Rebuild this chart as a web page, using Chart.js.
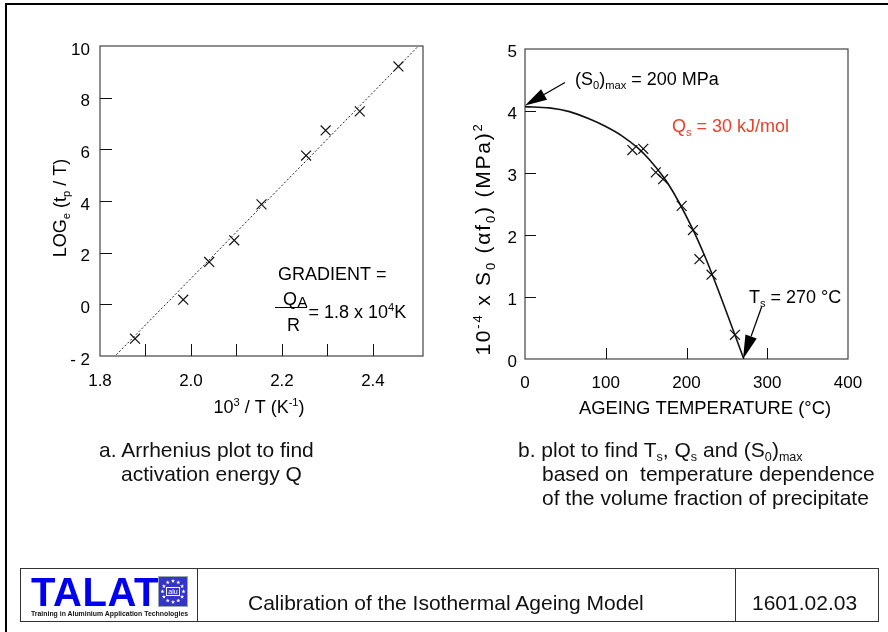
<!DOCTYPE html>
<html lang="en">
<head>
<meta charset="UTF-8">
<title>Calibration of the Isothermal Ageing Model</title>
<script src="https://cdn.jsdelivr.net/npm/chart.js"></script>
<style>
  body { margin: 0; background: #fff; font-family: "Liberation Sans", Arial, sans-serif; }
  #page { position: relative; width: 888px; height: 632px; overflow: hidden; background: #fff; }
  #frame { position: absolute; left: 5px; top: 3px; width: 1000px; height: 1000px; border-left: 2px solid #000; border-top: 2px solid #000; }
  canvas.plot { position: absolute; left: 0; top: 0; }
  .cap { position: absolute; font-size: 21px; line-height: 28px; color: #111; white-space: nowrap; }
  .cap sub { font-size: 60%; vertical-align: -0.3em; line-height: 0; }
  #banner { position: absolute; left: 20px; top: 568px; width: 859px; height: 54px; border: 1px solid #333; box-sizing: border-box; }
  .div { position: absolute; top: 0; bottom: 0; width: 1px; background: #333; }
  .btxt { position: absolute; font-size: 21px; line-height: 30px; color: #111; white-space: nowrap; }
  #talat { position: absolute; left: 10px; top: 3px; font-size: 40px; line-height: 40px; font-weight: bold; color: #0000f0; letter-spacing: 0.6px; }
  #talatsub { position: absolute; left: 10px; top: 41px; font-size: 6.9px; line-height: 8px; font-weight: bold; color: #111; white-space: nowrap; }
  #logo { position: absolute; left: 137px; top: 7px; }
</style>
</head>
<body>
<div id="page">
  <div id="frame"></div>
  <canvas id="arrhenius" class="plot" width="888" height="632"></canvas>
  <canvas id="solvus" class="plot" width="888" height="632"></canvas>

  <div class="cap" style="left:99px; top:436px;">a. Arrhenius plot to find</div>
  <div class="cap" style="left:121px; top:460px;">activation energy Q</div>
  <div class="cap" style="left:518px; top:436px;">b. plot to find T<sub>s</sub>, Q<sub>s</sub> and (S<sub>0</sub>)<sub>max</sub></div>
  <div class="cap" style="left:542px; top:460px;">based on&nbsp; temperature dependence</div>
  <div class="cap" style="left:542px; top:484px;">of the volume fraction of precipitate</div>

  <div id="banner">
    <div id="talat">TALAT</div>
    <canvas id="logo" width="30" height="31"></canvas>
    <div id="talatsub">Training in Aluminium Application Technologies</div>
    <div class="div" style="left:176px;"></div>
    <div class="btxt" style="left:227px; top:19px;">Calibration of the Isothermal Ageing Model</div>
    <div class="div" style="left:714px;"></div>
    <div class="btxt" style="left:731px; top:19px;">1601.02.03</div>
  </div>
</div>

<script>
// ---- a. Arrhenius plot ----
const arrX = [1.877, 1.983, 2.040, 2.095, 2.155, 2.253, 2.296, 2.371, 2.456];
const arrY = [-1.33, 0.18, 1.64, 2.48, 3.87, 5.76, 6.73, 7.47, 9.21];
const fitX = [1.836, 2.500];
const fitY = [-1.95, 10.0];
const arrXTicks = [1.8, 2.0, 2.2, 2.4];
const arrXLabels = ['1.8', '2.0', '2.2', '2.4'];
const arrXMarks = [1.9, 2.0, 2.1, 2.2, 2.3, 2.4];
const arrYTicks = [-2, 0, 2, 4, 6, 8, 10];
const arrYLabels = ['- 2', '0', '2', '4', '6', '8', '10'];
const arrYMarks = [0, 2, 4, 6, 8];

// ---- b. S0 vs ageing temperature ----
const ageT = [133, 146.5, 162, 171, 194, 208, 216, 231, 260];
const ageS = [3.37, 3.39, 3.01, 2.90, 2.47, 2.08, 1.61, 1.36, 0.39];
const curveT = [0, 30, 55, 80, 100, 120, 140, 155, 178, 206, 223, 237, 271];
const curveS = [4.07, 4.05, 3.99, 3.87, 3.75, 3.60, 3.40, 3.20, 2.81, 2.14, 1.65, 1.19, 0];
const ageXTicks = [0, 100, 200, 300, 400];
const ageXMarks = [100, 200, 300];
const ageYTicks = [0, 1, 2, 3, 4, 5];
const ageYMarks = [1, 2, 3, 4];

const FONT = '"Liberation Sans", Arial, Helvetica, sans-serif';
const pts = (xs, ys) => xs.map((v, i) => ({ x: v, y: ys[i] }));

// text with simple sub/superscripts: parts are strings or [text, 'sub'|'sup']
function drawRich(ctx, parts, x, y, size, align, color, spacing) {
  const sp = spacing || 0;
  const segs = parts.map(p => typeof p === 'string' ? { t: p, k: '' } : { t: p[0], k: p[1] });
  let w = 0;
  segs.forEach(s => {
    s.fs = s.k ? size * 0.62 : size;
    ctx.font = s.fs + 'px ' + FONT;
    s.cw = Array.from(s.t).map(ch => ctx.measureText(ch).width + sp);
    s.w = sp ? s.cw.reduce((a, b) => a + b, 0) : ctx.measureText(s.t).width;
    w += s.w;
  });
  let cx = align === 'center' ? x - w / 2 : align === 'right' ? x - w : x;
  ctx.fillStyle = color || '#000';
  ctx.textAlign = 'left';
  ctx.textBaseline = 'alphabetic';
  segs.forEach(s => {
    ctx.font = s.fs + 'px ' + FONT;
    const dy = s.k === 'sub' ? size * 0.24 : s.k === 'sup' ? -size * 0.38 : 0;
    if (sp) {
      Array.from(s.t).forEach((ch, i) => { ctx.fillText(ch, cx, y + dy); cx += s.cw[i]; });
    } else {
      ctx.fillText(s.t, cx, y + dy);
      cx += s.w;
    }
  });
}

function drawRotated(ctx, parts, x, y, size, spacing) {
  ctx.save();
  ctx.translate(x, y);
  ctx.rotate(-Math.PI / 2);
  drawRich(ctx, parts, 0, 0, size, 'center', '#000', spacing);
  ctx.restore();
}

function arrow(ctx, x1, y1, x2, y2, hl, hw) {
  const a = Math.atan2(y2 - y1, x2 - x1);
  const bx = x2 - hl * Math.cos(a), by = y2 - hl * Math.sin(a);
  ctx.strokeStyle = '#000';
  ctx.lineWidth = 1.3;
  ctx.beginPath(); ctx.moveTo(x1, y1); ctx.lineTo(bx, by); ctx.stroke();
  ctx.fillStyle = '#000';
  ctx.beginPath();
  ctx.moveTo(x2, y2);
  ctx.lineTo(bx + hw / 2 * Math.sin(a), by - hw / 2 * Math.cos(a));
  ctx.lineTo(bx - hw / 2 * Math.sin(a), by + hw / 2 * Math.cos(a));
  ctx.closePath(); ctx.fill();
}

// box round the plot and short inward tick marks
function boxTicks(xMarks, yMarks, len) {
  return {
    id: 'boxTicks',
    beforeDatasetsDraw(chart) {
      const { ctx, chartArea: a, scales: { x, y } } = chart;
      ctx.save();
      ctx.strokeStyle = '#444';
      ctx.lineWidth = 1.2;
      ctx.strokeRect(a.left, a.top, a.right - a.left, a.bottom - a.top);
      ctx.strokeStyle = '#111';
      ctx.lineWidth = 1;
      ctx.beginPath();
      xMarks.forEach(v => {
        const px = Math.round(x.getPixelForValue(v)) + 0.5;
        ctx.moveTo(px, a.bottom); ctx.lineTo(px, a.bottom - len);
      });
      yMarks.forEach(v => {
        const py = Math.round(y.getPixelForValue(v)) + 0.5;
        ctx.moveTo(a.left, py); ctx.lineTo(a.left + len, py);
      });
      ctx.stroke();
      ctx.restore();
    }
  };
}

function axis(min, max, ticks, labels, opts, tickOpts) {
  return Object.assign({
    type: 'linear', min: min, max: max,
    grid: { display: false }, border: { display: false },
    afterBuildTicks: s => { s.ticks = ticks.map(v => ({ value: v })); },
    ticks: Object.assign({ color: '#000', font: { family: FONT, size: 17 }, autoSkip: false, maxRotation: 0,
             callback: (v, i) => labels[i] }, tickOpts)
  }, opts);
}

const common = {
  animation: false, responsive: false, events: [],
  plugins: { legend: { display: false }, tooltip: { enabled: false } }
};

const markerStyle = {
  showLine: false, pointStyle: 'crossRot', pointRadius: 7,
  borderColor: '#111', pointBorderWidth: 1.2, backgroundColor: 'transparent'
};

new Chart(document.getElementById('arrhenius'), {
  type: 'scatter',
  data: {
    datasets: [
      { data: pts(fitX, fitY), showLine: true, pointRadius: 0, borderColor: '#222', borderWidth: 1, borderDash: [2, 2] },
      Object.assign({ data: pts(arrX, arrY) }, markerStyle)
    ]
  },
  options: Object.assign({}, common, {
    layout: { padding: { left: 0, top: 46, right: 465, bottom: 236 } },
    scales: {
      x: axis(1.8, 2.51, arrXTicks, arrXLabels, { afterFit: s => { s.height = 40; } }, { padding: 7 }),
      y: axis(-2, 10, arrYTicks, arrYLabels, { afterFit: s => { s.width = 100; } }, { padding: 2, labelOffset: 4 })
    }
  }),
  plugins: [boxTicks(arrXMarks, arrYMarks, 12), {
    id: 'arrText',
    afterDraw(chart) {
      const ctx = chart.ctx;
      ctx.save();
      drawRotated(ctx, ['LOG', ['e', 'sub'], ' (t', ['p', 'sub'], ' / T)'], 66, 208, 18);
      drawRich(ctx, ['10', ['3', 'sup'], ' / T (K', ['-1', 'sup'], ')'], 259, 413, 18, 'center');
      drawRich(ctx, ['GRADIENT ='], 278, 280, 18, 'left');
      drawRich(ctx, ['Q'], 283, 305, 18, 'left');
      drawRich(ctx, ['A'], 297.5, 307, 15, 'left');
      ctx.strokeStyle = '#000'; ctx.lineWidth = 1;
      ctx.beginPath(); ctx.moveTo(275, 307.5); ctx.lineTo(307, 307.5); ctx.stroke();
      drawRich(ctx, ['R'], 287, 331, 18, 'left');
      drawRich(ctx, ['= 1.8 x 10', ['4', 'sup'], 'K'], 308.5, 318, 18, 'left');
      ctx.restore();
    }
  }]
});

new Chart(document.getElementById('solvus'), {
  type: 'scatter',
  data: {
    datasets: [
      { data: pts(curveT, curveS), showLine: true, pointRadius: 0, borderColor: '#111', borderWidth: 1.6,
        cubicInterpolationMode: 'monotone' },
      Object.assign({ data: pts(ageT, ageS) }, markerStyle)
    ]
  },
  options: Object.assign({}, common, {
    layout: { padding: { left: 425, top: 49, right: 40, bottom: 233 } },
    scales: {
      x: axis(0, 400, ageXTicks, ageXTicks.map(String), { afterFit: s => { s.height = 40; } }, { padding: 6 }),
      y: axis(0, 5, ageYTicks, ageYTicks.map(String), { afterFit: s => { s.width = 100; } }, { padding: 0, labelOffset: 3 })
    }
  }),
  plugins: [boxTicks(ageXMarks, ageYMarks, 11), {
    id: 'ageText',
    afterDraw(chart) {
      const { ctx, scales: { x, y } } = chart;
      ctx.save();
      drawRotated(ctx, ['10', ['-4', 'sup'], ' x S', ['0', 'sub'], ' (\u03b1f', ['0', 'sub'], ') (MPa)', ['2', 'sup']], 490, 239, 21, 1.8);
      drawRich(ctx, ['AGEING TEMPERATURE (\u00b0C)'], 705, 414, 18.4, 'center');
      drawRich(ctx, ['(S', ['0', 'sub'], ')', ['max', 'sub'], ' = 200 MPa'], 575, 85, 18, 'left');
      drawRich(ctx, ['Q', ['s', 'sub'], ' = 30 kJ/mol'], 672, 132, 18, 'left', '#e8412c');
      drawRich(ctx, ['T', ['s', 'sub'], ' = 270 \u00b0C'], 749, 303, 18, 'left');
      arrow(ctx, x.getPixelForValue(49.5), y.getPixelForValue(4.46), x.getPixelForValue(0), y.getPixelForValue(4.09), 22, 12);
      arrow(ctx, x.getPixelForValue(293), y.getPixelForValue(0.84), x.getPixelForValue(270), y.getPixelForValue(0), 24, 12);
      ctx.restore();
    }
  }]
});

// small EU-style logo square
(function () {
  const c = document.getElementById('logo').getContext('2d');
  c.fillStyle = '#3434c8';
  c.fillRect(0, 0, 30, 31);
  c.strokeStyle = '#9aa';
  c.strokeRect(0.5, 0.5, 29, 30);
  c.fillStyle = '#fff';
  for (let i = 0; i < 12; i++) {
    const a = i * Math.PI / 6;
    const cx = 15 + 10.5 * Math.cos(a), cy = 15.5 + 10.5 * Math.sin(a);
    c.beginPath();
    for (let k = 0; k < 10; k++) {
      const r = k % 2 ? 0.9 : 2.2, b = -Math.PI / 2 + k * Math.PI / 5;
      c.lineTo(cx + r * Math.cos(b), cy + r * Math.sin(b));
    }
    c.closePath(); c.fill();
  }
  c.strokeStyle = '#fff';
  c.strokeRect(8.5, 11.5, 13, 8);
  c.font = '7px ' + FONT;
  c.textAlign = 'center';
  c.fillText('alu', 15, 18);
})();
</script>
</body>
</html>
